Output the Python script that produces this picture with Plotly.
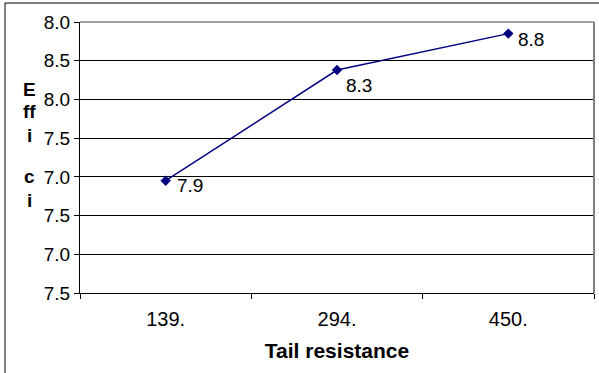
import plotly.graph_objects as go

# Tail resistance categories and measured efficiency
resistance = ["139.", "294.", "450."]
efficiency = [86.95, 88.38, 88.85]
value_labels = ["7.9", "8.3", "8.8"]

# Y-axis tick positions and their printed labels
y_tickvals = [85.5, 86.0, 86.5, 87.0, 87.5, 88.0, 88.5, 89.0]
y_ticktext = ["7.5", "7.0", "7.5", "7.0", "7.5", "8.0", "8.5", "8.0"]

# Stacked letters of the y-axis title
y_title_parts = ["E", "ff", "i", "c", "i"]

W, H = 599, 373
ML, MR, MT, MB = 80, 5, 22, 80
PW, PH = W - ML - MR, H - MT - MB


def px_x(px):
    return (px - ML) / PW


def px_y(py):
    return (H - MB - py) / PH


NAVY = "#000080"
FONT = "Liberation Sans, Arial, sans-serif"

fig = go.Figure()
fig.add_trace(go.Scatter(
    x=resistance, y=efficiency, mode="lines+markers",
    line=dict(color=NAVY, width=1.5),
    marker=dict(symbol="diamond", size=8, color=NAVY),
    hoverinfo="skip", showlegend=False,
))

# value labels to the lower right of each point (category index on x)
label_shift = [(9, -5), (7, -15), (8, -6)]
for i, (yv, t, (dx, dy)) in enumerate(zip(efficiency, value_labels, label_shift)):
    fig.add_annotation(x=i, y=yv, text=t, showarrow=False, xanchor="left",
                       yanchor="middle", xshift=dx, yshift=dy,
                       font=dict(family=FONT, size=19, color="black"))

# vertical letters of the y-axis title
title_y = [89, 111, 135, 176, 201]
for part, py in zip(y_title_parts, title_y):
    fig.add_annotation(x=px_x(29), y=px_y(py), xref="paper", yref="paper",
                       text="<b>%s</b>" % part, showarrow=False,
                       xanchor="center", yanchor="middle",
                       font=dict(family=FONT, size=19, color="black"))

fig.update_layout(
    width=W, height=H,
    margin=dict(l=ML, r=MR, t=MT, b=MB),
    paper_bgcolor="white", plot_bgcolor="white",
    font=dict(family=FONT, size=19, color="black"),
    xaxis=dict(
        type="category", tickson="boundaries", ticks="outside", ticklen=5,
        tickcolor="black", showline=True, linecolor="black", linewidth=1,
        showgrid=False, zeroline=False, range=[-0.5, 2.5],
        tickfont=dict(family=FONT, size=20), ticklabelstandoff=8,
        title=dict(text="<b>Tail resistance</b>", standoff=14,
                   font=dict(family=FONT, size=21)),
    ),
    yaxis=dict(
        range=[85.5, 89.0], tickvals=y_tickvals, ticktext=y_ticktext,
        ticks="outside", ticklen=5, tickcolor="black",
        showline=True, linecolor="black", linewidth=1,
        showgrid=True, gridcolor="black", gridwidth=1, zeroline=False,
        tickfont=dict(family=FONT, size=19),
    ),
    shapes=[
        # plot-area frame (top and right edges)
        dict(type="line", xref="paper", yref="paper", x0=0, x1=1, y0=1, y1=1,
             line=dict(color="#808080", width=1.5)),
        dict(type="line", xref="paper", yref="paper", x0=1, x1=1, y0=0, y1=1,
             line=dict(color="#808080", width=2)),
        # outer chart border
        dict(type="rect", xref="paper", yref="paper",
             x0=px_x(5), x1=px_x(620), y0=px_y(400), y1=px_y(3),
             line=dict(color="black", width=1)),
    ],
)

fig.write_html("out.html")
